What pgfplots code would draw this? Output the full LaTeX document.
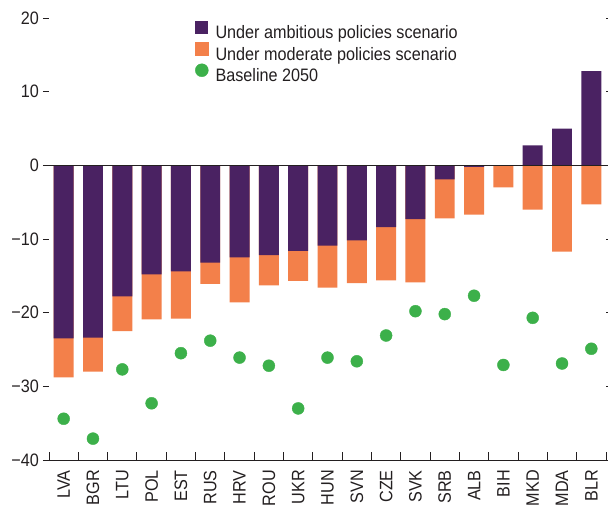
\documentclass[border=0pt]{standalone}
\usepackage{pgfplots}
\pgfplotsset{compat=1.18}
\usepackage{fontspec}
\setmainfont{Liberation Sans}[FakeStretch=0.9]
\definecolor{ambcol}{RGB}{74,34,98}
\definecolor{modcol}{RGB}{243,128,74}
\definecolor{basecol}{RGB}{60,176,74}
\definecolor{txtcol}{RGB}{35,31,32}
\newcommand\ff{\fontsize{18}{21}\selectfont}
\begin{document}
\begin{tikzpicture}[font=\ff, text=txtcol]
\begin{axis}[
  scale only axis, width=557pt, height=442pt,
  xmin=-0.5, xmax=18.5, ymin=-40, ymax=20,
  axis x line=bottom, axis y line=none,
  x axis line style={-, txtcol, line width=0.9pt},
  xtick={0,...,18},
  xticklabels={LVA,BGR,LTU,POL,EST,RUS,HRV,ROU,UKR,HUN,SVN,CZE,SVK,SRB,ALB,BIH,MKD,MDA,BLR},
  minor xtick={-0.5,0.5,...,18.5},
  tick align=inside,
  major tick length=0pt,
  minor tick length=8pt,
  tick style={txtcol, line width=0.9pt},
  xticklabel style={rotate=90, anchor=east, inner sep=0pt, font=\ff, text=txtcol},
  xticklabel shift=10pt,
  legend style={at={(0.262,0.994)}, anchor=north west, draw=none, fill=none, inner sep=0pt, font=\ff, row sep=0pt,
    nodes={inner sep=0pt, text height=13pt, text depth=3.5pt, anchor=west, text=txtcol},
    /tikz/every odd column/.append style={column sep=7pt}},
  legend cell align=left,
  clip=false,
]
\addplot[ybar, bar width=0.68, bar shift=0pt, fill=modcol, draw=none, forget plot] coordinates {
 (0,-28.8) (1,-28.0) (2,-22.5) (3,-20.9) (4,-20.8) (5,-16.1) (6,-18.6) (7,-16.3) (8,-15.7) (9,-16.6)
 (10,-16.0) (11,-15.6) (12,-15.9) (13,-7.2) (14,-6.7) (15,-3.0) (16,-6.0) (17,-11.7) (18,-5.3)};
\addplot[ybar, bar width=0.68, bar shift=0pt, fill=ambcol, draw=none,
  legend image code/.code={\fill[ambcol] (0pt,0pt) rectangle (13pt,13pt);}] coordinates {
 (0,-23.5) (1,-23.4) (2,-17.8) (3,-14.8) (4,-14.4) (5,-13.2) (6,-12.5) (7,-12.2) (8,-11.6) (9,-10.9)
 (10,-10.2) (11,-8.4) (12,-7.3) (13,-1.9) (14,-0.2) (15,0) (16,2.7) (17,5.0) (18,12.8)};
\addlegendentry{Under ambitious policies scenario}
\addlegendimage{legend image code/.code={\fill[modcol] (0pt,0pt) rectangle (13pt,13pt);}}
\addlegendentry{Under moderate policies scenario}
\addplot[only marks, mark=*, mark size=6pt, color=basecol,
  legend image code/.code={\fill[basecol] (6.5pt,6.5pt) circle (6.5pt);}] coordinates {
 (0,-34.4) (1,-37.1) (2,-27.7) (3,-32.3) (4,-25.5) (5,-23.8) (6,-26.1) (7,-27.2) (8,-33.0) (9,-26.1)
 (10,-26.6) (11,-23.1) (12,-19.8) (13,-20.2) (14,-17.7) (15,-27.1) (16,-20.7) (17,-26.9) (18,-24.9)};
\addlegendentry{Baseline 2050}
\draw[txtcol, line width=1pt] (axis cs:-0.5,0) -- (axis cs:18.5,0);
\end{axis}
\begin{axis}[
  scale only axis, width=557pt, height=442pt,
  xmin=-0.5, xmax=18.5, ymin=-40, ymax=20,
  hide x axis,
  axis line style={draw=none},
  ytick={-40,-30,...,20},
  yticklabels={−40,−30,−20,−10,0,10,20},
  ytick pos=both, yticklabel pos=left,
  tick align=outside, major tick length=6pt,
  tick style={txtcol, line width=0.9pt},
  yticklabel style={font=\ff, inner xsep=4pt, text=txtcol},
]
\end{axis}
\pgfresetboundingbox
\useasboundingbox (-49pt,-44pt) rectangle (559pt,460pt);
\end{tikzpicture}
\end{document}
